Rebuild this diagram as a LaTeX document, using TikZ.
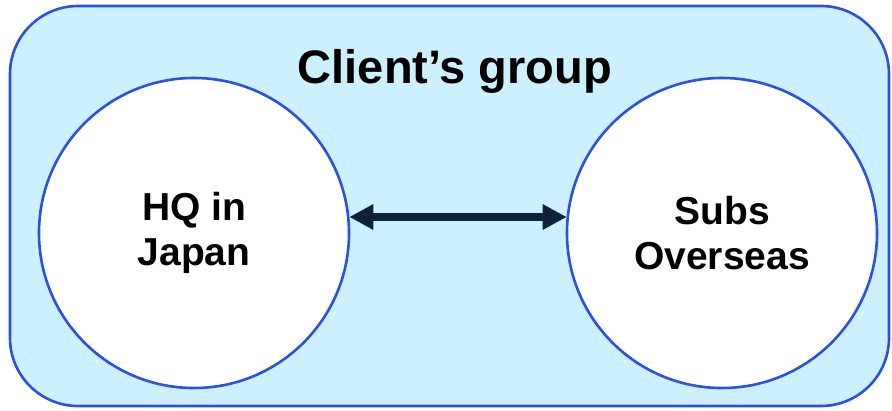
\documentclass[tikz,border=0pt]{standalone}
\usepackage{fontspec}
\setmainfont{Liberation Sans}
\usetikzlibrary{arrows.meta}
\definecolor{groupfill}{RGB}{204,240,254}
\definecolor{groupline}{RGB}{42,80,228}
\definecolor{arrowcol}{RGB}{14,35,57}
\tikzset{
  entity/.style={circle, draw=groupline, line width=2.6pt, fill=white, minimum size=310pt, inner sep=0pt,
    align=center, font=\fontsize{39}{45}\selectfont\bfseries},
  link/.style={arrowcol, line width=8pt, {Triangle[length=24pt,width=24pt]}-{Triangle[length=24pt,width=24pt]}, shorten <=-1pt, shorten >=-1pt}
}
\begin{document}
\begin{tikzpicture}[x=1pt,y=-1pt]
\useasboundingbox (0,0) rectangle (892,410);
\draw[groupline, fill=groupfill, line width=2.6pt, rounded corners=68pt] (10,6) rectangle (889,406);
\node[font=\fontsize{47}{54}\selectfont\bfseries, anchor=base] (title) at (455,83) {Client’s group};
\node[entity] (hq) at (194,233) {HQ in\\Japan};
\node[entity] (subs) at (722,233) {Subs\\Overseas};
\draw[link] (hq.east |- 0,217) -- (subs.west |- 0,217);
\end{tikzpicture}
\end{document}
